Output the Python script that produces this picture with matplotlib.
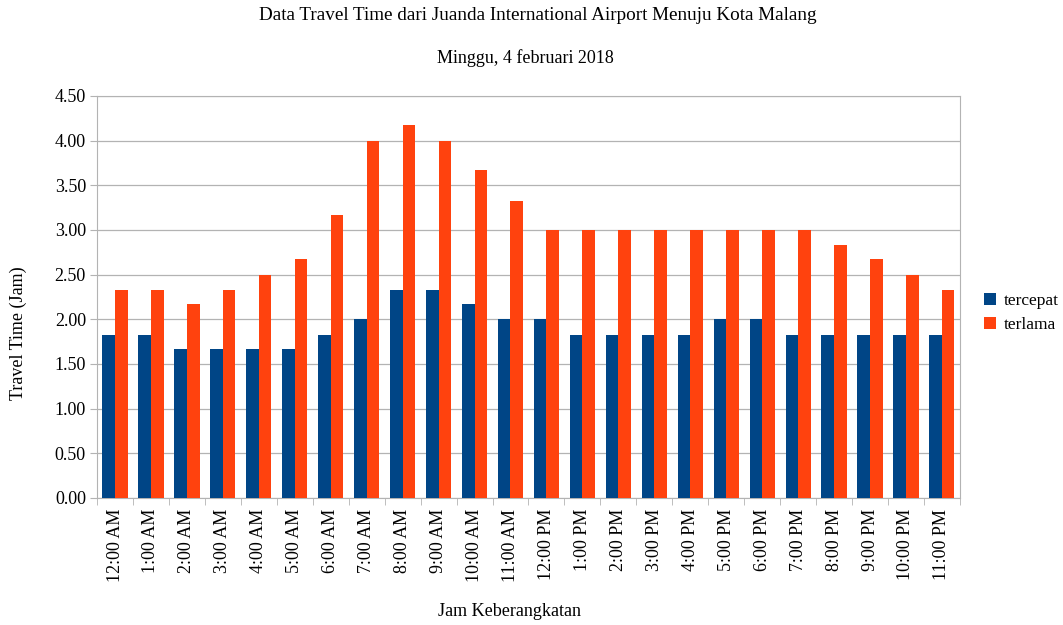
import matplotlib
matplotlib.use("Agg")
import matplotlib.pyplot as plt
import numpy as np

plt.rcParams['font.family'] = ['Liberation Serif', 'DejaVu Serif']

jam = ['12:00 AM', '1:00 AM', '2:00 AM', '3:00 AM', '4:00 AM', '5:00 AM',
       '6:00 AM', '7:00 AM', '8:00 AM', '9:00 AM', '10:00 AM', '11:00 AM',
       '12:00 PM', '1:00 PM', '2:00 PM', '3:00 PM', '4:00 PM', '5:00 PM',
       '6:00 PM', '7:00 PM', '8:00 PM', '9:00 PM', '10:00 PM', '11:00 PM']
tercepat = [1.83, 1.83, 1.67, 1.67, 1.67, 1.67, 1.83, 2.00, 2.33, 2.33, 2.17, 2.00,
            2.00, 1.83, 1.83, 1.83, 1.83, 2.00, 2.00, 1.83, 1.83, 1.83, 1.83, 1.83]
terlama = [2.33, 2.33, 2.17, 2.33, 2.50, 2.67, 3.17, 4.00, 4.17, 4.00, 3.67, 3.33,
           3.00, 3.00, 3.00, 3.00, 3.00, 3.00, 3.00, 3.00, 2.83, 2.67, 2.50, 2.33]

fig = plt.figure(figsize=(10.63, 6.25), dpi=100)
ax = fig.add_axes([0.0913, 0.2032, 0.8117, 0.6432])

x = np.arange(len(jam))
w = 0.35
ax.bar(x - w / 2, tercepat, w, color='#004586', label='tercepat', zorder=3)
ax.bar(x + w / 2, terlama, w, color='#ff420e', label='terlama', zorder=3)

ax.set_xlim(-0.5, len(jam) - 0.5)
ax.set_ylim(0, 4.5)
ax.set_yticks(np.arange(0, 4.51, 0.5))
ax.set_yticklabels(['%.2f' % v for v in np.arange(0, 4.51, 0.5)], fontsize=13)
ax.set_xticks(x)
ax.set_xticklabels(jam, rotation=90, fontsize=13)
ax.set_xticks(np.arange(-0.5, len(jam), 1), minor=True)
ax.tick_params(axis='x', which='major', length=0, pad=8)
ax.tick_params(axis='x', which='minor', length=5, color='#b3b3b3')
ax.tick_params(axis='y', length=5, color='#b3b3b3', pad=3)
ax.grid(axis='y', color='#b3b3b3', linewidth=0.9, zorder=0)
for s in ax.spines.values():
    s.set_color('#b3b3b3')

fig.text(18 / 1063, 1 - 333 / 625, 'Travel Time (Jam)', rotation=90,
         ha='center', va='center', fontsize=13)
fig.text(0.479, 1 - 612 / 625, 'Jam Keberangkatan', ha='center', va='center', fontsize=13)
fig.text(0.506, 0.975, 'Data Travel Time dari Juanda International Airport Menuju Kota Malang',
         ha='center', va='center', fontsize=13.8)
fig.text(0.494, 0.907, 'Minggu, 4 februari 2018', ha='center', va='center', fontsize=13)

fig.legend(loc='center left', bbox_to_anchor=(0.926, 0.499), frameon=False, fontsize=12.5,
           borderpad=0, borderaxespad=0,
           handlelength=0.7, handleheight=0.7, handletextpad=0.4, labelspacing=0.45)

fig.savefig('out.png', dpi=100)
